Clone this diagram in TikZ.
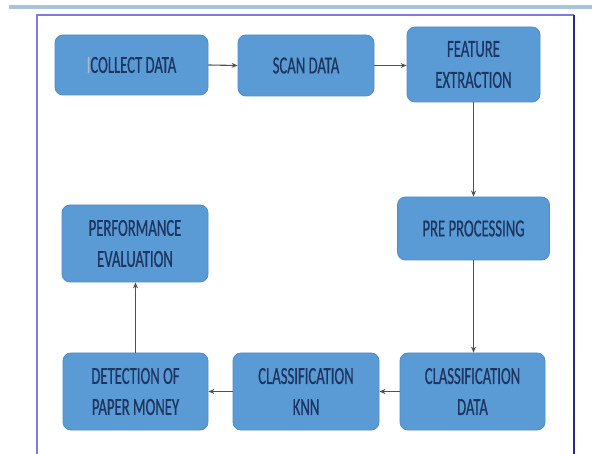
\documentclass[tikz,border=0pt]{standalone}
\usepackage{fontspec}
\newfontfamily\condfont[FakeStretch=0.6,FakeBold=0.6]{Carlito}
\usetikzlibrary{arrows.meta}
\definecolor{boxblue}{HTML}{5B9BD5}
\definecolor{boxedge}{HTML}{4F8CC6}
\definecolor{txtnavy}{HTML}{1D3560}
\definecolor{arrowgray}{HTML}{505050}
\definecolor{topbar}{HTML}{A9C4DA}
\definecolor{frameL}{HTML}{8478E0}
\definecolor{frameR}{HTML}{2B2A86}
\tikzset{
  flowbox/.style={draw=boxedge, line width=0.8pt, fill=boxblue, rounded corners=8pt,
    text=txtnavy, font=\condfont\fontsize{24.5}{31}\selectfont, align=center, inner sep=0pt},
  flowarrow/.style={draw=arrowgray, line width=1.1pt, -{Stealth[length=6pt,width=5pt]}}
}
\begin{document}
\begin{tikzpicture}[x=1pt,y=-1pt]
\useasboundingbox (0,0) rectangle (592,454);
\fill[white] (0,0) rectangle (592,454);
% top bar
\fill[topbar] (9,5) rectangle (592,9);
% frame
\draw[frameL, line width=1.4pt] (37,454) -- (37,15) -- (574,15);
\draw[frameR, line width=1.2pt] (574,15) -- (574,454);
% boxes
\node[flowbox, minimum width=153pt, minimum height=60pt] (collect) at (131.5,65) {{\color{txtnavy!35}I}COLLECT DATA};
\node[flowbox, minimum width=136pt, minimum height=61pt] (scan) at (306,65.5) {SCAN DATA};
\node[flowbox, minimum width=133pt, minimum height=75pt] (feature) at (473.5,64.5) {FEATURE\\EXTRACTION};
\node[flowbox, minimum width=152pt, minimum height=63pt] (pre) at (473.5,228.5) {PRE PROCESSING};
\node[flowbox, minimum width=145pt, minimum height=77pt] (cdata) at (472.5,391.5) {CLASSIFICATION\\DATA};
\node[flowbox, minimum width=146pt, minimum height=77pt] (knn) at (306,391.5) {CLASSIFICATION\\KNN};
\node[flowbox, minimum width=145pt, minimum height=77pt] (detect) at (135.5,391.5) {DETECTION OF\\PAPER MONEY};
\node[flowbox, minimum width=146pt, minimum height=77pt] (perf) at (135,243.5) {PERFORMANCE\\EVALUATION};
% connectors
\draw[flowarrow] (collect.east) -- (scan.west);
\draw[flowarrow] (scan.east) -- (feature.west |- scan.east);
\draw[flowarrow] (feature.south) -- (pre.north -| feature.south);
\draw[flowarrow] (pre.south) -- (cdata.north -| pre.south);
\draw[flowarrow] (cdata.west) -- (knn.east);
\draw[flowarrow] (knn.west) -- (detect.east);
\draw[flowarrow] (detect.north) -- (perf.south -| detect.north);
\end{tikzpicture}
\end{document}
